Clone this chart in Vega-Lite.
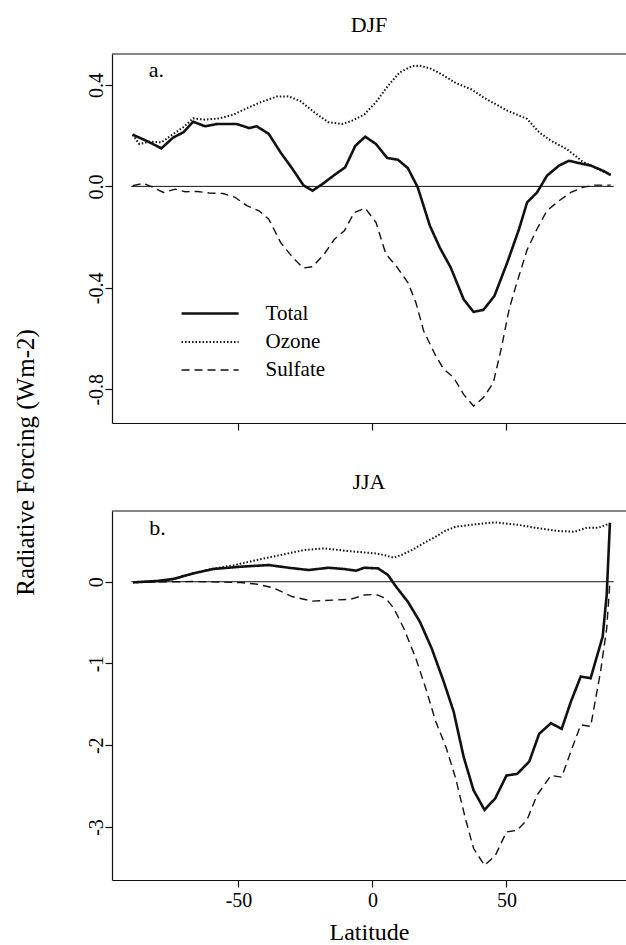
{
  "$schema": "https://vega.github.io/schema/vega-lite/v6.json",
  "padding": {"left": 13, "top": 14, "right": 0, "bottom": 0},
  "background": "white",
  "bounds": "flush",
  "spacing": 88,
  "config": {
    "font": "Liberation Serif",
    "view": {"stroke": null},
    "axis": {"grid": false, "domainColor": "#111", "tickColor": "#111", "labelColor": "#000", "titleColor": "#000", "labelFont": "Liberation Serif", "titleFont": "Liberation Serif", "labelFontSize": 20, "titleFontSize": 24, "titleFontWeight": "normal", "tickSize": 7, "domainWidth": 1.2, "tickWidth": 1.2},
    "legend": {"labelFont": "Liberation Serif", "titleFont": "Liberation Serif"},
    "text": {"font": "Liberation Serif"},
    "title": {"font": "Liberation Serif", "fontSize": 22, "fontWeight": "normal", "color": "#000"}
  },
  "datasets": {
    "djf": [
      {"series": "Total", "lat": -89.5, "value": 0.204}, {"series": "Total", "lat": -84, "value": 0.178}, {"series": "Total", "lat": -78.8, "value": 0.15}, {"series": "Total", "lat": -74.3, "value": 0.193}, {"series": "Total", "lat": -70.6, "value": 0.213}, {"series": "Total", "lat": -66.9, "value": 0.255}, {"series": "Total", "lat": -62.5, "value": 0.237}, {"series": "Total", "lat": -58, "value": 0.246}, {"series": "Total", "lat": -50.6, "value": 0.246}, {"series": "Total", "lat": -46.1, "value": 0.23}, {"series": "Total", "lat": -43.2, "value": 0.237}, {"series": "Total", "lat": -38.7, "value": 0.207}, {"series": "Total", "lat": -34.3, "value": 0.134}, {"series": "Total", "lat": -29.8, "value": 0.068}, {"series": "Total", "lat": -25.8, "value": 0.005}, {"series": "Total", "lat": -22.4, "value": -0.017}, {"series": "Total", "lat": -18.7, "value": 0.009}, {"series": "Total", "lat": -14.2, "value": 0.045}, {"series": "Total", "lat": -10.2, "value": 0.075}, {"series": "Total", "lat": -6.4, "value": 0.16}, {"series": "Total", "lat": -2.7, "value": 0.196}, {"series": "Total", "lat": 1.3, "value": 0.167}, {"series": "Total", "lat": 5.5, "value": 0.112}, {"series": "Total", "lat": 9.5, "value": 0.105}, {"series": "Total", "lat": 13.2, "value": 0.072}, {"series": "Total", "lat": 16.9, "value": -0.004}, {"series": "Total", "lat": 21.4, "value": -0.155}, {"series": "Total", "lat": 25.1, "value": -0.241}, {"series": "Total", "lat": 29.2, "value": -0.32}, {"series": "Total", "lat": 34, "value": -0.445}, {"series": "Total", "lat": 37.7, "value": -0.495}, {"series": "Total", "lat": 41.4, "value": -0.487}, {"series": "Total", "lat": 45.5, "value": -0.432}, {"series": "Total", "lat": 50.3, "value": -0.3}, {"series": "Total", "lat": 54.7, "value": -0.168}, {"series": "Total", "lat": 57.7, "value": -0.063}, {"series": "Total", "lat": 61.4, "value": -0.024}, {"series": "Total", "lat": 65.1, "value": 0.042}, {"series": "Total", "lat": 69.6, "value": 0.082}, {"series": "Total", "lat": 73.3, "value": 0.101}, {"series": "Total", "lat": 77, "value": 0.092}, {"series": "Total", "lat": 81.5, "value": 0.082}, {"series": "Total", "lat": 85.9, "value": 0.062}, {"series": "Total", "lat": 88.9, "value": 0.045},
      {"series": "Ozone", "lat": -89.5, "value": 0.204}, {"series": "Ozone", "lat": -87, "value": 0.167}, {"series": "Ozone", "lat": -83.2, "value": 0.176}, {"series": "Ozone", "lat": -78.8, "value": 0.174}, {"series": "Ozone", "lat": -74.3, "value": 0.207}, {"series": "Ozone", "lat": -70.6, "value": 0.233}, {"series": "Ozone", "lat": -66.9, "value": 0.268}, {"series": "Ozone", "lat": -62.5, "value": 0.263}, {"series": "Ozone", "lat": -57.3, "value": 0.268}, {"series": "Ozone", "lat": -52.1, "value": 0.282}, {"series": "Ozone", "lat": -46.9, "value": 0.308}, {"series": "Ozone", "lat": -41.7, "value": 0.332}, {"series": "Ozone", "lat": -35.8, "value": 0.354}, {"series": "Ozone", "lat": -31.3, "value": 0.355}, {"series": "Ozone", "lat": -26.9, "value": 0.336}, {"series": "Ozone", "lat": -21.7, "value": 0.292}, {"series": "Ozone", "lat": -16.5, "value": 0.253}, {"series": "Ozone", "lat": -11.3, "value": 0.246}, {"series": "Ozone", "lat": -7.6, "value": 0.259}, {"series": "Ozone", "lat": -3.1, "value": 0.283}, {"series": "Ozone", "lat": 1.3, "value": 0.332}, {"series": "Ozone", "lat": 5.8, "value": 0.397}, {"series": "Ozone", "lat": 10.2, "value": 0.45}, {"series": "Ozone", "lat": 14.7, "value": 0.474}, {"series": "Ozone", "lat": 17.7, "value": 0.476}, {"series": "Ozone", "lat": 22.1, "value": 0.463}, {"series": "Ozone", "lat": 26.6, "value": 0.437}, {"series": "Ozone", "lat": 31, "value": 0.408}, {"series": "Ozone", "lat": 37, "value": 0.382}, {"series": "Ozone", "lat": 41.4, "value": 0.351}, {"series": "Ozone", "lat": 45.8, "value": 0.325}, {"series": "Ozone", "lat": 50.3, "value": 0.299}, {"series": "Ozone", "lat": 57.7, "value": 0.266}, {"series": "Ozone", "lat": 62.2, "value": 0.213}, {"series": "Ozone", "lat": 66.6, "value": 0.18}, {"series": "Ozone", "lat": 72.5, "value": 0.147}, {"series": "Ozone", "lat": 78.5, "value": 0.097}, {"series": "Ozone", "lat": 82.9, "value": 0.075}, {"series": "Ozone", "lat": 88.9, "value": 0.045},
      {"series": "Sulfate", "lat": -89.5, "value": 0.003}, {"series": "Sulfate", "lat": -85.5, "value": 0.012}, {"series": "Sulfate", "lat": -81.8, "value": -0.004}, {"series": "Sulfate", "lat": -78, "value": -0.024}, {"series": "Sulfate", "lat": -73.6, "value": -0.011}, {"series": "Sulfate", "lat": -69.9, "value": -0.021}, {"series": "Sulfate", "lat": -65.4, "value": -0.02}, {"series": "Sulfate", "lat": -61, "value": -0.026}, {"series": "Sulfate", "lat": -55.8, "value": -0.028}, {"series": "Sulfate", "lat": -51.3, "value": -0.043}, {"series": "Sulfate", "lat": -46.9, "value": -0.076}, {"series": "Sulfate", "lat": -42.4, "value": -0.096}, {"series": "Sulfate", "lat": -38.7, "value": -0.129}, {"series": "Sulfate", "lat": -34.3, "value": -0.221}, {"series": "Sulfate", "lat": -29.8, "value": -0.28}, {"series": "Sulfate", "lat": -25.8, "value": -0.322}, {"series": "Sulfate", "lat": -22.4, "value": -0.317}, {"series": "Sulfate", "lat": -18, "value": -0.267}, {"series": "Sulfate", "lat": -14.2, "value": -0.208}, {"series": "Sulfate", "lat": -10.5, "value": -0.175}, {"series": "Sulfate", "lat": -6.8, "value": -0.103}, {"series": "Sulfate", "lat": -2.7, "value": -0.086}, {"series": "Sulfate", "lat": 1.3, "value": -0.142}, {"series": "Sulfate", "lat": 5, "value": -0.267}, {"series": "Sulfate", "lat": 8.8, "value": -0.313}, {"series": "Sulfate", "lat": 13.2, "value": -0.379}, {"series": "Sulfate", "lat": 16.2, "value": -0.458}, {"series": "Sulfate", "lat": 19.1, "value": -0.57}, {"series": "Sulfate", "lat": 23.6, "value": -0.668}, {"series": "Sulfate", "lat": 26.6, "value": -0.721}, {"series": "Sulfate", "lat": 30.3, "value": -0.754}, {"series": "Sulfate", "lat": 34, "value": -0.82}, {"series": "Sulfate", "lat": 37.7, "value": -0.866}, {"series": "Sulfate", "lat": 41.4, "value": -0.833}, {"series": "Sulfate", "lat": 45.1, "value": -0.774}, {"series": "Sulfate", "lat": 48, "value": -0.642}, {"series": "Sulfate", "lat": 51, "value": -0.484}, {"series": "Sulfate", "lat": 53.3, "value": -0.4}, {"series": "Sulfate", "lat": 57.7, "value": -0.25}, {"series": "Sulfate", "lat": 61.4, "value": -0.168}, {"series": "Sulfate", "lat": 65.1, "value": -0.096}, {"series": "Sulfate", "lat": 69.6, "value": -0.057}, {"series": "Sulfate", "lat": 74, "value": -0.024}, {"series": "Sulfate", "lat": 78.5, "value": -0.004}, {"series": "Sulfate", "lat": 82.9, "value": 0.005}, {"series": "Sulfate", "lat": 88.9, "value": 0.005}
    ],
    "jja": [
      {"series": "Total", "lat": -89.3, "value": -0.008}, {"series": "Total", "lat": -80, "value": 0.01}, {"series": "Total", "lat": -74.4, "value": 0.033}, {"series": "Total", "lat": -66.9, "value": 0.102}, {"series": "Total", "lat": -59.5, "value": 0.155}, {"series": "Total", "lat": -49.1, "value": 0.184}, {"series": "Total", "lat": -38.7, "value": 0.204}, {"series": "Total", "lat": -31.3, "value": 0.171}, {"series": "Total", "lat": -23.8, "value": 0.143}, {"series": "Total", "lat": -16.5, "value": 0.171}, {"series": "Total", "lat": -10.5, "value": 0.155}, {"series": "Total", "lat": -6.1, "value": 0.135}, {"series": "Total", "lat": -3.1, "value": 0.171}, {"series": "Total", "lat": 2.1, "value": 0.163}, {"series": "Total", "lat": 5.8, "value": 0.082}, {"series": "Total", "lat": 8.8, "value": -0.061}, {"series": "Total", "lat": 13.2, "value": -0.245}, {"series": "Total", "lat": 17.7, "value": -0.49}, {"series": "Total", "lat": 22.1, "value": -0.816}, {"series": "Total", "lat": 26.6, "value": -1.224}, {"series": "Total", "lat": 30.3, "value": -1.59}, {"series": "Total", "lat": 34, "value": -2.14}, {"series": "Total", "lat": 37.7, "value": -2.55}, {"series": "Total", "lat": 41.8, "value": -2.79}, {"series": "Total", "lat": 45.8, "value": -2.65}, {"series": "Total", "lat": 50, "value": -2.37}, {"series": "Total", "lat": 54, "value": -2.35}, {"series": "Total", "lat": 58.5, "value": -2.2}, {"series": "Total", "lat": 62.2, "value": -1.86}, {"series": "Total", "lat": 66.6, "value": -1.73}, {"series": "Total", "lat": 70.6, "value": -1.8}, {"series": "Total", "lat": 74, "value": -1.47}, {"series": "Total", "lat": 77.7, "value": -1.16}, {"series": "Total", "lat": 81.4, "value": -1.18}, {"series": "Total", "lat": 85.9, "value": -0.67}, {"series": "Total", "lat": 87.4, "value": -0.16}, {"series": "Total", "lat": 88.6, "value": 0.72},
      {"series": "Ozone", "lat": -89.3, "value": -0.008}, {"series": "Ozone", "lat": -80, "value": 0.005}, {"series": "Ozone", "lat": -74.4, "value": 0.03}, {"series": "Ozone", "lat": -66.9, "value": 0.1}, {"series": "Ozone", "lat": -59.5, "value": 0.16}, {"series": "Ozone", "lat": -52, "value": 0.2}, {"series": "Ozone", "lat": -43.2, "value": 0.265}, {"series": "Ozone", "lat": -34.3, "value": 0.327}, {"series": "Ozone", "lat": -25.4, "value": 0.388}, {"series": "Ozone", "lat": -18, "value": 0.408}, {"series": "Ozone", "lat": -9.1, "value": 0.375}, {"series": "Ozone", "lat": 1.3, "value": 0.346}, {"series": "Ozone", "lat": 5, "value": 0.32}, {"series": "Ozone", "lat": 8, "value": 0.294}, {"series": "Ozone", "lat": 11, "value": 0.33}, {"series": "Ozone", "lat": 14.7, "value": 0.388}, {"series": "Ozone", "lat": 19, "value": 0.47}, {"series": "Ozone", "lat": 23.6, "value": 0.551}, {"series": "Ozone", "lat": 27, "value": 0.62}, {"series": "Ozone", "lat": 31, "value": 0.673}, {"series": "Ozone", "lat": 38.4, "value": 0.702}, {"series": "Ozone", "lat": 45.8, "value": 0.726}, {"series": "Ozone", "lat": 54.7, "value": 0.694}, {"series": "Ozone", "lat": 62.2, "value": 0.652}, {"series": "Ozone", "lat": 69.6, "value": 0.62}, {"series": "Ozone", "lat": 75.5, "value": 0.612}, {"series": "Ozone", "lat": 80, "value": 0.661}, {"series": "Ozone", "lat": 84.4, "value": 0.661}, {"series": "Ozone", "lat": 88.6, "value": 0.714},
      {"series": "Sulfate", "lat": -89.3, "value": -0.008}, {"series": "Sulfate", "lat": -66.9, "value": 0.003}, {"series": "Sulfate", "lat": -49.1, "value": -0.01}, {"series": "Sulfate", "lat": -43, "value": -0.03}, {"series": "Sulfate", "lat": -37.2, "value": -0.073}, {"series": "Sulfate", "lat": -29.8, "value": -0.184}, {"series": "Sulfate", "lat": -22.4, "value": -0.237}, {"series": "Sulfate", "lat": -15, "value": -0.225}, {"series": "Sulfate", "lat": -8.3, "value": -0.216}, {"series": "Sulfate", "lat": -3.1, "value": -0.163}, {"series": "Sulfate", "lat": 1.3, "value": -0.155}, {"series": "Sulfate", "lat": 5, "value": -0.204}, {"series": "Sulfate", "lat": 8, "value": -0.327}, {"series": "Sulfate", "lat": 11.7, "value": -0.571}, {"series": "Sulfate", "lat": 16.2, "value": -0.939}, {"series": "Sulfate", "lat": 19.9, "value": -1.306}, {"series": "Sulfate", "lat": 23.6, "value": -1.71}, {"series": "Sulfate", "lat": 27.5, "value": -2.03}, {"series": "Sulfate", "lat": 31, "value": -2.4}, {"series": "Sulfate", "lat": 34.7, "value": -2.9}, {"series": "Sulfate", "lat": 37.7, "value": -3.26}, {"series": "Sulfate", "lat": 41.8, "value": -3.47}, {"series": "Sulfate", "lat": 45.8, "value": -3.35}, {"series": "Sulfate", "lat": 50, "value": -3.06}, {"series": "Sulfate", "lat": 54, "value": -3.04}, {"series": "Sulfate", "lat": 57.7, "value": -2.91}, {"series": "Sulfate", "lat": 61.4, "value": -2.61}, {"series": "Sulfate", "lat": 66.6, "value": -2.37}, {"series": "Sulfate", "lat": 70.6, "value": -2.39}, {"series": "Sulfate", "lat": 74, "value": -2.08}, {"series": "Sulfate", "lat": 77.7, "value": -1.75}, {"series": "Sulfate", "lat": 81.4, "value": -1.77}, {"series": "Sulfate", "lat": 85.1, "value": -1.1}, {"series": "Sulfate", "lat": 87.4, "value": -0.57}, {"series": "Sulfate", "lat": 88.6, "value": 0}
    ]
  },
  "resolve": {"legend": {"strokeDash": "independent", "strokeWidth": "independent"}},
  "vconcat": [
    {
      "width": 514,
      "height": 369,
      "title": {"text": "DJF", "frame": "group", "anchor": "middle", "offset": 16, "font": "Liberation Serif"},
      "layer": [
        {
          "data": {"name": "djf"},
          "mark": {"type": "line", "color": "#111"},
          "encoding": {
            "x": {"field": "lat", "type": "quantitative", "scale": {"domain": [-97.2, 94.6], "nice": false, "zero": false}, "axis": {"values": [-50, 0, 50], "labels": false, "title": null}},
            "y": {"field": "value", "type": "quantitative", "scale": {"domain": [-0.933, 0.522], "nice": false, "zero": false}, "axis": {"values": [0.4, 0, -0.4, -0.8], "labelAngle": -90, "labelAlign": "center", "labelBaseline": "alphabetic", "labelPadding": 3, "labelFont": "Liberation Serif", "labelExpr": "datum.value < 0 ? '-' + format(-datum.value, '.1f') : format(datum.value, '.1f')", "title": "Radiative Forcing (Wm-2)", "titleFont": "Liberation Serif", "titleFontSize": 25, "titleX": -87, "titleY": 408, "titleAngle": -90, "titleAlign": "center", "titleBaseline": "middle"}},
            "strokeDash": {"field": "series", "type": "nominal", "scale": {"domain": ["Total", "Ozone", "Sulfate"], "range": [[1, 0], [1.5, 2], [8, 5]]}, "legend": {"title": null, "orient": "none", "legendX": 82.6, "legendY": 244, "symbolType": "M-2.04,0H2.04", "symbolSize": 784, "labelFontSize": 21, "labelFont": "Liberation Serif", "labelColor": "#000", "labelOffset": 40, "rowPadding": 3, "padding": 0, "symbolStrokeColor": "#111", "symbolFillColor": "transparent", "symbolOffset": 0}},
            "strokeWidth": {"field": "series", "type": "nominal", "scale": {"domain": ["Total", "Ozone", "Sulfate"], "range": [2.6, 1.4, 1.3]}, "legend": {"title": null, "orient": "none", "legendX": 82.6, "legendY": 244, "symbolType": "M-2.04,0H2.04", "symbolSize": 784, "labelFontSize": 21, "labelFont": "Liberation Serif", "labelColor": "#000", "labelOffset": 40, "rowPadding": 3, "padding": 0, "symbolStrokeColor": "#111", "symbolFillColor": "transparent", "symbolOffset": 0}}
          }
        },
        {
          "data": {"values": [{}]},
          "mark": {"type": "rule", "color": "#111", "strokeWidth": 1},
          "encoding": {"x": {"datum": -90}, "x2": {"datum": 90}, "y": {"datum": 0}}
        },
        {
          "data": {"values": [{}]},
          "mark": {"type": "rule", "color": "#111", "strokeWidth": 1.2},
          "encoding": {"y": {"datum": 0.522}}
        },
        {
          "data": {"values": [{}]},
          "mark": {"type": "text", "text": "a.", "fontSize": 22, "align": "left", "baseline": "alphabetic", "font": "Liberation Serif", "color": "#000"},
          "encoding": {"x": {"datum": -83.5}, "y": {"datum": 0.43}}
        }
      ]
    },
    {
      "width": 514,
      "height": 369,
      "title": {"text": "JJA", "frame": "group", "anchor": "middle", "offset": 16, "font": "Liberation Serif"},
      "layer": [
        {
          "data": {"name": "jja"},
          "mark": {"type": "line", "color": "#111"},
          "encoding": {
            "x": {"field": "lat", "type": "quantitative", "scale": {"domain": [-97.2, 94.6], "nice": false, "zero": false}, "axis": {"values": [-50, 0, 50], "labelBaseline": "alphabetic", "labelPadding": 19, "labelFont": "Liberation Serif", "labelExpr": "datum.value < 0 ? '-' + format(-datum.value, 'd') : format(datum.value, 'd')", "title": "Latitude", "titleFont": "Liberation Serif", "titleFontSize": 24, "titleY": 59, "titleBaseline": "alphabetic"}},
            "y": {"field": "value", "type": "quantitative", "scale": {"domain": [-3.648, 0.865], "nice": false, "zero": false}, "axis": {"values": [0, -1, -2, -3], "labelAngle": -90, "labelAlign": "center", "labelBaseline": "alphabetic", "labelPadding": 3, "labelFont": "Liberation Serif", "labelExpr": "datum.value < 0 ? '-' + format(-datum.value, 'd') : '0'", "title": null}},
            "strokeDash": {"field": "series", "type": "nominal", "scale": {"domain": ["Total", "Ozone", "Sulfate"], "range": [[1, 0], [1.5, 2], [8, 5]]}, "legend": null},
            "strokeWidth": {"field": "series", "type": "nominal", "scale": {"domain": ["Total", "Ozone", "Sulfate"], "range": [2.6, 1.4, 1.3]}, "legend": null}
          }
        },
        {
          "data": {"values": [{}]},
          "mark": {"type": "rule", "color": "#111", "strokeWidth": 1},
          "encoding": {"x": {"datum": -90}, "x2": {"datum": 90}, "y": {"datum": 0}}
        },
        {
          "data": {"values": [{}]},
          "mark": {"type": "rule", "color": "#111", "strokeWidth": 1.2},
          "encoding": {"y": {"datum": 0.865}}
        },
        {
          "data": {"values": [{}]},
          "mark": {"type": "text", "text": "b.", "fontSize": 22, "align": "left", "baseline": "alphabetic", "font": "Liberation Serif", "color": "#000"},
          "encoding": {"x": {"datum": -83.3}, "y": {"datum": 0.575}}
        }
      ]
    }
  ]
}
